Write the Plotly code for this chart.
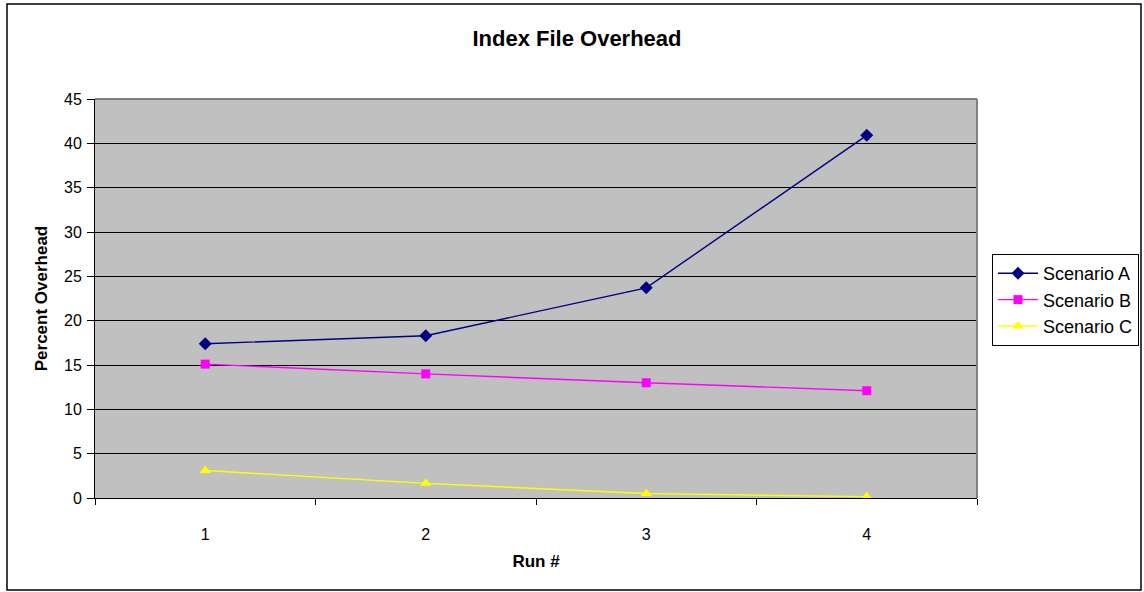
import plotly.graph_objects as go

runs = [1, 2, 3, 4]
scenario_a = [17.4, 18.3, 23.7, 40.9]
scenario_b = [15.1, 14.0, 13.0, 12.1]
scenario_c = [3.1, 1.65, 0.5, 0.15]
y_ticks = [0, 5, 10, 15, 20, 25, 30, 35, 40, 45]

fig = go.Figure()
fig.add_trace(go.Scatter(x=runs, y=scenario_a, name="Scenario A", mode="lines+markers",
                         legendgroup="a",
                         line=dict(color="#000080", width=1.4),
                         marker=dict(symbol="diamond", size=10, color="#000080")))
fig.add_trace(go.Scatter(x=runs, y=scenario_b, name="Scenario B", mode="lines+markers",
                         legendgroup="b",
                         line=dict(color="#FF00FF", width=1.4),
                         marker=dict(symbol="square", size=9, color="#FF00FF")))
fig.add_trace(go.Scatter(x=runs, y=scenario_c, name="Scenario C", mode="lines+markers",
                         legendgroup="c",
                         line=dict(color="#FFFF00", width=1.4),
                         marker=dict(symbol="triangle-up", size=10, color="#FFFF00")))

fig.update_layout(
    width=1144, height=592,
    margin=dict(l=95, r=167, t=99, b=94, autoexpand=False),
    paper_bgcolor="white", plot_bgcolor="#C0C0C0",
    font=dict(family="Arial, Liberation Sans, sans-serif", size=16, color="black"),
    title=dict(text="<b>Index File Overhead</b>", x=577 / 1144, xanchor="center",
               y=1 - 38 / 592, yanchor="middle", font=dict(size=22)),
    showlegend=True,
    legend=dict(x=(992 - 95) / 882, xanchor="left", y=(498 - 254) / 399, yanchor="top",
                bordercolor="black", borderwidth=1, bgcolor="white",
                font=dict(size=18), traceorder="grouped", tracegroupgap=0, itemwidth=40),
    xaxis=dict(range=[0.5, 4.5], tickmode="array", tickvals=runs, ticktext=[str(r) for r in runs],
               ticks="", showgrid=False, zeroline=False,
               showline=True, linecolor="black", linewidth=1,
               ticklabelstandoff=22,
               minor=dict(tickmode="array", tickvals=[0.5, 1.5, 2.5, 3.5, 4.5], ticks="outside",
                          ticklen=6, tickcolor="black", showgrid=False),
               title=dict(text="<b>Run #</b>", standoff=12, font=dict(size=17)),
               tickfont=dict(size=16)),
    yaxis=dict(range=[0, 45], tickmode="array", tickvals=y_ticks,
               ticks="outside", ticklen=7, tickcolor="black",
               showgrid=True, gridcolor="black", gridwidth=1, zeroline=False,
               showline=True, linecolor="black", linewidth=1,
               ticklabelstandoff=2,
               title=dict(text="<b>Percent Overhead</b>", standoff=12, font=dict(size=17)),
               tickfont=dict(size=16)),
)

# plot area top/right gray border
fig.add_shape(type="line", xref="paper", yref="paper", x0=0, x1=1, y0=1, y1=1,
              line=dict(color="#808080", width=2))
fig.add_shape(type="line", xref="paper", yref="paper", x0=1, x1=1, y0=0, y1=1,
              line=dict(color="#808080", width=2))
# outer chart border
fig.add_shape(type="rect", xref="paper", yref="paper",
              x0=(7 - 95) / 882, x1=(1141 - 95) / 882,
              y0=(498 - 590) / 399, y1=(498 - 4) / 399,
              line=dict(color="black", width=1.5), layer="below")

fig.write_html("out.html", config={"displayModeBar": False},
               post_script="document.body.style.margin='0px';")
